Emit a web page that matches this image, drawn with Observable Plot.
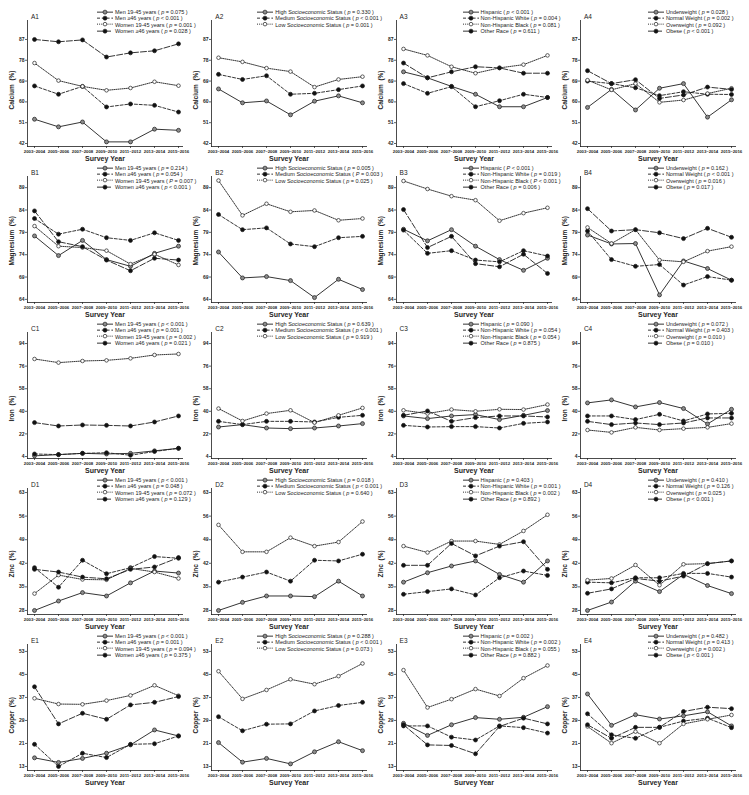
<!DOCTYPE html>
<html><head><meta charset="utf-8">
<script src="https://cdn.jsdelivr.net/npm/d3@7"></script>
<script src="https://cdn.jsdelivr.net/npm/@observablehq/plot@0.6"></script>
<style>
body{margin:0;background:#fff;}
#wrap{position:relative;width:749px;height:795px;overflow:hidden;font-family:Arial,"Liberation Sans",sans-serif;color:#222;}
.panel{position:absolute;}
.panel svg{overflow:visible;}
.ptitle{position:absolute;font-size:6.5px;line-height:8px;color:#222;white-space:nowrap;}
.legend{position:absolute;font-size:5.5px;color:#222;white-space:nowrap;}
.legend .row{height:6.3px;display:flex;align-items:center;}
</style></head><body><div id="wrap"></div>
<script>
// ---- categories ----
const years = ["2003–2004","2005–2006","2007–2008","2009–2010","2011–2012","2013–2014","2015–2016"];
const groupSexAge = ["Men 19-45 years","Men ≥46 years","Women 19-45 years","Women ≥46 years"];
const groupSES = ["High Socioeconomic Status","Medium Socioeconomic Status","Low Socioeconomic Status"];
const groupRace = ["Hispanic","Non-Hispanic White","Non-Hispanic Black","Other Race"];
const groupBMI = ["Underweight","Normal Weight","Overweight","Obese"];
const nutrients = ["Calcium","Magnesium","Iron","Zinc","Copper"];
const rowLetters = ["A","B","C","D","E"];

// ---- tick labels ----
const ticksCalcium = [42,51,60,69,78,87];
const ticksMagnesium = [64,69,74,79,84,89];
const ticksIron = [4,22,40,58,76,94];
const ticksZinc = [28,35,42,49,56,63];
const ticksCopper = [13,21,29,37,45,53];

// ---- values (%) ----
const calciumSexAge = [
  [52.5,49.2,51.3,42.7,42.7,48.2,47.7],
  [66.9,63.3,66.7,57.8,59.1,58.5,55.6],
  [76.8,69.2,66.7,65.0,66.0,68.7,67.0],
  [87.0,86.0,86.8,79.4,81.2,82.1,85.1]];
const calciumSES = [
  [65.6,59.6,60.4,54.4,60.3,62.6,59.6],
  [71.9,69.7,71.3,63.3,63.7,65.3,66.9],
  [79.1,77.3,74.6,73.1,66.4,69.7,70.9]];
const calciumRace = [
  [73.0,70.4,66.7,63.3,57.9,57.9,61.9],
  [67.9,63.7,66.6,57.9,60.5,63.3,61.9],
  [82.9,80.1,75.2,72.4,74.7,76.1,80.1],
  [76.8,70.4,73.0,75.2,74.7,72.4,72.4]];
const calciumBMI = [
  [57.6,65.4,56.5,65.9,67.9,53.4,60.9],
  [69.0,67.9,66.1,62.7,64.4,63.3,63.2],
  [69.4,65.2,67.9,59.8,60.8,63.6,65.9],
  [73.5,67.9,69.6,61.5,63.0,66.4,65.4]];

const magnesiumSexAge = [
  [78.2,73.8,77.2,72.9,71.4,74.3,75.9],
  [82.1,78.6,79.7,77.8,77.2,78.9,77.2],
  [80.4,75.9,75.6,74.9,71.9,74.1,71.7],
  [83.8,76.9,75.8,72.8,70.4,73.2,72.8]];
const magnesiumSES = [
  [74.6,68.8,69.1,68.2,64.4,68.5,66.2],
  [83.0,79.6,80.0,76.4,75.8,77.8,78.1],
  [90.6,82.8,85.4,83.6,83.9,81.7,82.1]];
const magnesiumRace = [
  [79.7,77.1,79.6,75.9,72.9,70.5,73.2],
  [79.5,74.3,74.9,72.8,72.4,74.9,73.7],
  [90.5,88.7,87.1,86.2,81.6,83.3,84.5],
  [84.1,75.6,78.1,72.0,71.3,74.1,69.8]];
const magnesiumBMI = [
  [78.4,76.4,76.5,65.0,72.6,70.9,68.3],
  [79.3,72.9,71.4,71.8,67.2,69.1,68.3],
  [80.1,76.5,79.6,72.8,72.4,74.8,75.8],
  [84.3,79.3,79.6,78.9,77.6,79.9,77.9]];

const ironSexAge = [
  [4.5,5.5,6.5,6.0,6.5,8.5,10.5],
  [6.0,5.5,6.5,7.0,5.0,8.0,10.5],
  [81.7,78.8,80.1,80.6,82.2,84.9,85.7],
  [31.0,28.3,29.1,28.8,28.3,31.5,36.3]];
const ironSES = [
  [27.5,29.4,26.7,26.2,26.7,28.3,30.2],
  [32.0,29.4,32.0,32.0,31.5,35.2,36.8],
  [42.2,32.3,38.2,40.8,31.0,36.8,42.7]];
const ironRace = [
  [36.3,34.2,36.3,37.4,33.4,36.8,40.6],
  [28.8,27.5,27.8,27.8,26.7,30.4,31.5],
  [40.8,38.2,41.4,40.0,41.6,41.4,45.4],
  [36.8,40.3,32.0,35.0,36.3,36.3,35.5]];
const ironBMI = [
  [46.7,49.1,43.5,47.0,42.2,29.9,41.6],
  [36.3,36.3,33.4,37.6,32.3,37.9,38.4],
  [25.1,23.2,27.2,25.1,26.2,27.2,30.2],
  [32.0,29.4,30.7,29.4,30.7,34.7,34.7]];

const zincSexAge = [
  [28.0,30.8,33.3,32.3,36.2,39.7,39.1],
  [40.7,34.9,42.9,38.9,40.7,44.0,43.5],
  [33.0,38.5,37.2,37.1,40.5,39.4,37.5],
  [40.2,39.4,37.9,37.4,40.2,40.9,43.7]];
const zincSES = [
  [28.0,30.4,32.3,32.3,32.1,36.7,32.3],
  [36.4,37.9,39.4,36.7,42.9,42.7,44.7],
  [53.4,45.4,45.4,49.6,47.1,48.3,54.4]];
const zincRace = [
  [36.4,39.2,41.2,42.7,38.7,36.4,42.7],
  [32.8,33.6,34.4,32.6,37.7,39.7,38.4],
  [47.1,45.2,48.6,48.6,47.6,51.6,56.4],
  [41.4,41.4,47.9,44.2,47.1,48.4,40.2]];
const zincBMI = [
  [28.0,30.5,36.7,33.6,38.7,35.4,33.0],
  [36.4,36.2,37.7,37.7,39.0,39.0,37.9],
  [37.0,37.5,41.5,35.5,41.7,41.9,42.7],
  [33.1,34.4,37.5,36.7,38.2,41.9,42.7]];

const copperSexAge = [
  [16.0,14.4,15.8,17.6,20.5,25.7,23.6],
  [20.7,13.0,17.6,16.1,20.7,20.9,23.6],
  [36.7,34.7,34.6,35.9,37.7,41.2,37.6],
  [40.7,27.8,31.5,29.4,34.4,35.3,37.3]];
const copperSES = [
  [21.3,14.5,15.8,13.9,18.1,21.6,18.5],
  [30.3,25.4,27.7,27.8,32.3,34.2,35.3],
  [46.1,36.5,39.6,43.3,41.6,44.4,48.8]];
const copperRace = [
  [28.0,23.8,27.5,30.0,29.4,30.1,33.8],
  [27.1,27.1,23.2,22.2,27.1,26.5,24.6],
  [46.5,33.5,36.4,39.9,37.5,43.7,48.1],
  [27.5,20.5,20.3,17.4,26.9,29.8,27.8]];
const copperBMI = [
  [38.2,27.3,31.0,29.5,30.6,32.0,27.1],
  [31.3,24.0,22.8,26.6,28.8,29.8,26.5],
  [26.9,21.1,25.1,21.1,27.8,29.4,30.9],
  [27.5,22.8,26.6,26.6,32.1,33.6,33.1]];

// ---- p values (legend) ----
const pCalcium = [["p = 0.075","p < 0.001","p = 0.001","p = 0.028"],["p = 0.330","p < 0.001","p = 0.001"],["p < 0.001","p = 0.004","p = 0.081","p = 0.611"],["p = 0.028","p = 0.002","p = 0.092","p < 0.001"]];
const pMagnesium = [["p = 0.214","p = 0.054","P = 0.007","p < 0.001"],["p = 0.005","P = 0.003","p = 0.025"],["P < 0.001","p = 0.019","P < 0.001","p = 0.006"],["p = 0.162","p < 0.001","p = 0.016","p = 0.017"]];
const pIron = [["p < 0.001","p = 0.001","p = 0.002","p = 0.021"],["p = 0.639","p < 0.001","p = 0.919"],["p = 0.090","p = 0.054","p = 0.054","p = 0.875"],["p = 0.072","p = 0.403","p = 0.010","p = 0.010"]];
const pZinc = [["p < 0.001","p = 0.048","p = 0.072","p = 0.129"],["p = 0.018","p < 0.001","p = 0.640"],["p = 0.403","p = 0.001","p = 0.002","p = 0.892"],["p = 0.410","p = 0.126","p = 0.025","p < 0.001"]];
const pCopper = [["p < 0.001","p = 0.001","p = 0.094","p = 0.375"],["p = 0.288","p < 0.001","p = 0.073"],["p = 0.002","p = 0.002","p = 0.055","p = 0.882"],["p = 0.482","p = 0.413","p = 0.002","p < 0.001"]];

// ---- layout / styles ----
const rowsCfg = [
  {ticks: ticksCalcium, domain:[40.7,95.2], panels:[calciumSexAge,calciumSES,calciumRace,calciumBMI], ps:pCalcium},
  {ticks: ticksMagnesium, domain:[63.3,91.5], panels:[magnesiumSexAge,magnesiumSES,magnesiumRace,magnesiumBMI], ps:pMagnesium},
  {ticks: ticksIron, domain:[2.4,102.8], panels:[ironSexAge,ironSES,ironRace,ironBMI], ps:pIron},
  {ticks: ticksZinc, domain:[26.8,64.2], panels:[zincSexAge,zincSES,zincRace,zincBMI], ps:pZinc},
  {ticks: ticksCopper, domain:[11.6,55.4], panels:[copperSexAge,copperSES,copperRace,copperBMI], ps:pCopper}
];
const groups = [groupSexAge, groupSES, groupRace, groupBMI];
const legendOffset = [70, 46, 67, 68];
const seriesStyles = [
  {dash:null, fill:"#8c8c8c", r:2},
  {dash:"3,1.8", fill:"#111", r:2},
  {dash:"1,1.1", fill:"#fff", r:1.8},
  {dash:"6,2", fill:"#111", r:2}
];
const rowTop = r => 156*r;
const colLeft = c => 1 + 184.3*c;
const ink = "#1e1e1e";

const wrap = document.getElementById("wrap");

rowsCfg.forEach((row, r) => {
  row.panels.forEach((series, c) => {
    const labels = groups[c];
    const marks = [
      Plot.frame({anchor:"left", stroke:ink, strokeWidth:0.8}),
      Plot.frame({anchor:"bottom", stroke:ink, strokeWidth:0.8}),
      Plot.axisX({tickSize:2, tickPadding:1.5, fontSize:4.3, fontWeight:"bold", label:null, stroke:ink, strokeWidth:0.7}),
      Plot.axisY({ticks: row.ticks, tickSize:2, tickPadding:1, fontSize:5, fontWeight:"bold", label:null, stroke:ink, strokeWidth:0.7}),
      Plot.text(["Survey Year"], {frameAnchor:"bottom", dy:14, fontSize:7, fontWeight:"bold", fill:ink}),
      Plot.text([nutrients[r] + "  (%)"], {frameAnchor:"bottom-left", rotate:-90, textAnchor:"start", dx:-13.5, dy:-37, fontSize:6.5, fontWeight:"bold", fill:ink})
    ];
    const tables = series.map((vals, i) => vals.map((v, j) => ({year: years[j], value: v, group: labels[i]})));
    tables.forEach((t, i) => {
      marks.push(Plot.line(t, {x:"year", y:"value", stroke:ink, strokeWidth:0.9, strokeDasharray: seriesStyles[i].dash || undefined}));
    });
    tables.forEach((t, i) => {
      marks.push(Plot.dot(t, {x:"year", y:"value", r:seriesStyles[i].r, fill:seriesStyles[i].fill, stroke:ink, strokeWidth:0.7}));
    });
    const plot = Plot.plot({
      width:184, height:164,
      marginLeft:26, marginRight:3, marginTop:20, marginBottom:18,
      style:{background:"transparent", overflow:"visible", fontFamily:"Arial, 'Liberation Sans', sans-serif", color:ink},
      x:{type:"point", domain:years, padding:0, insetLeft:4, insetRight:2},
      y:{domain:row.domain},
      marks
    });
    const div = document.createElement("div");
    div.className = "panel";
    div.style.left = colLeft(c) + "px";
    div.style.top = rowTop(r) + "px";
    div.appendChild(plot);
    wrap.appendChild(div);

    // panel title
    const t = document.createElement("div");
    t.className = "ptitle";
    t.textContent = rowLetters[r] + (c + 1);
    t.style.left = (colLeft(c) + 30) + "px";
    t.style.top = (rowTop(r) + 12.5) + "px";
    wrap.appendChild(t);

    // legend
    const lg = document.createElement("div");
    lg.className = "legend";
    lg.style.left = (colLeft(c) + 26 + legendOffset[c]) + "px";
    lg.style.top = (rowTop(r) + 8.8) + "px";
    labels.forEach((lab, i) => {
      const st = seriesStyles[i];
      const p = row.ps[c][i];
      const rowEl = document.createElement("div");
      rowEl.className = "row";
      rowEl.innerHTML = `<svg width="16" height="6.3" style="flex:none;margin-right:2px;overflow:visible"><line x1="0" x2="16" y1="3.15" y2="3.15" stroke="${ink}" stroke-width="0.9" ${st.dash ? `stroke-dasharray="${st.dash}"` : ""}/><circle cx="8" cy="3.15" r="${st.r}" fill="${st.fill}" stroke="${ink}" stroke-width="0.7"/></svg><span>${lab} ( <i>${p[0]}</i>${p.slice(1)} )</span>`;
      lg.appendChild(rowEl);
    });
    wrap.appendChild(lg);
  });
});
</script></body></html>
